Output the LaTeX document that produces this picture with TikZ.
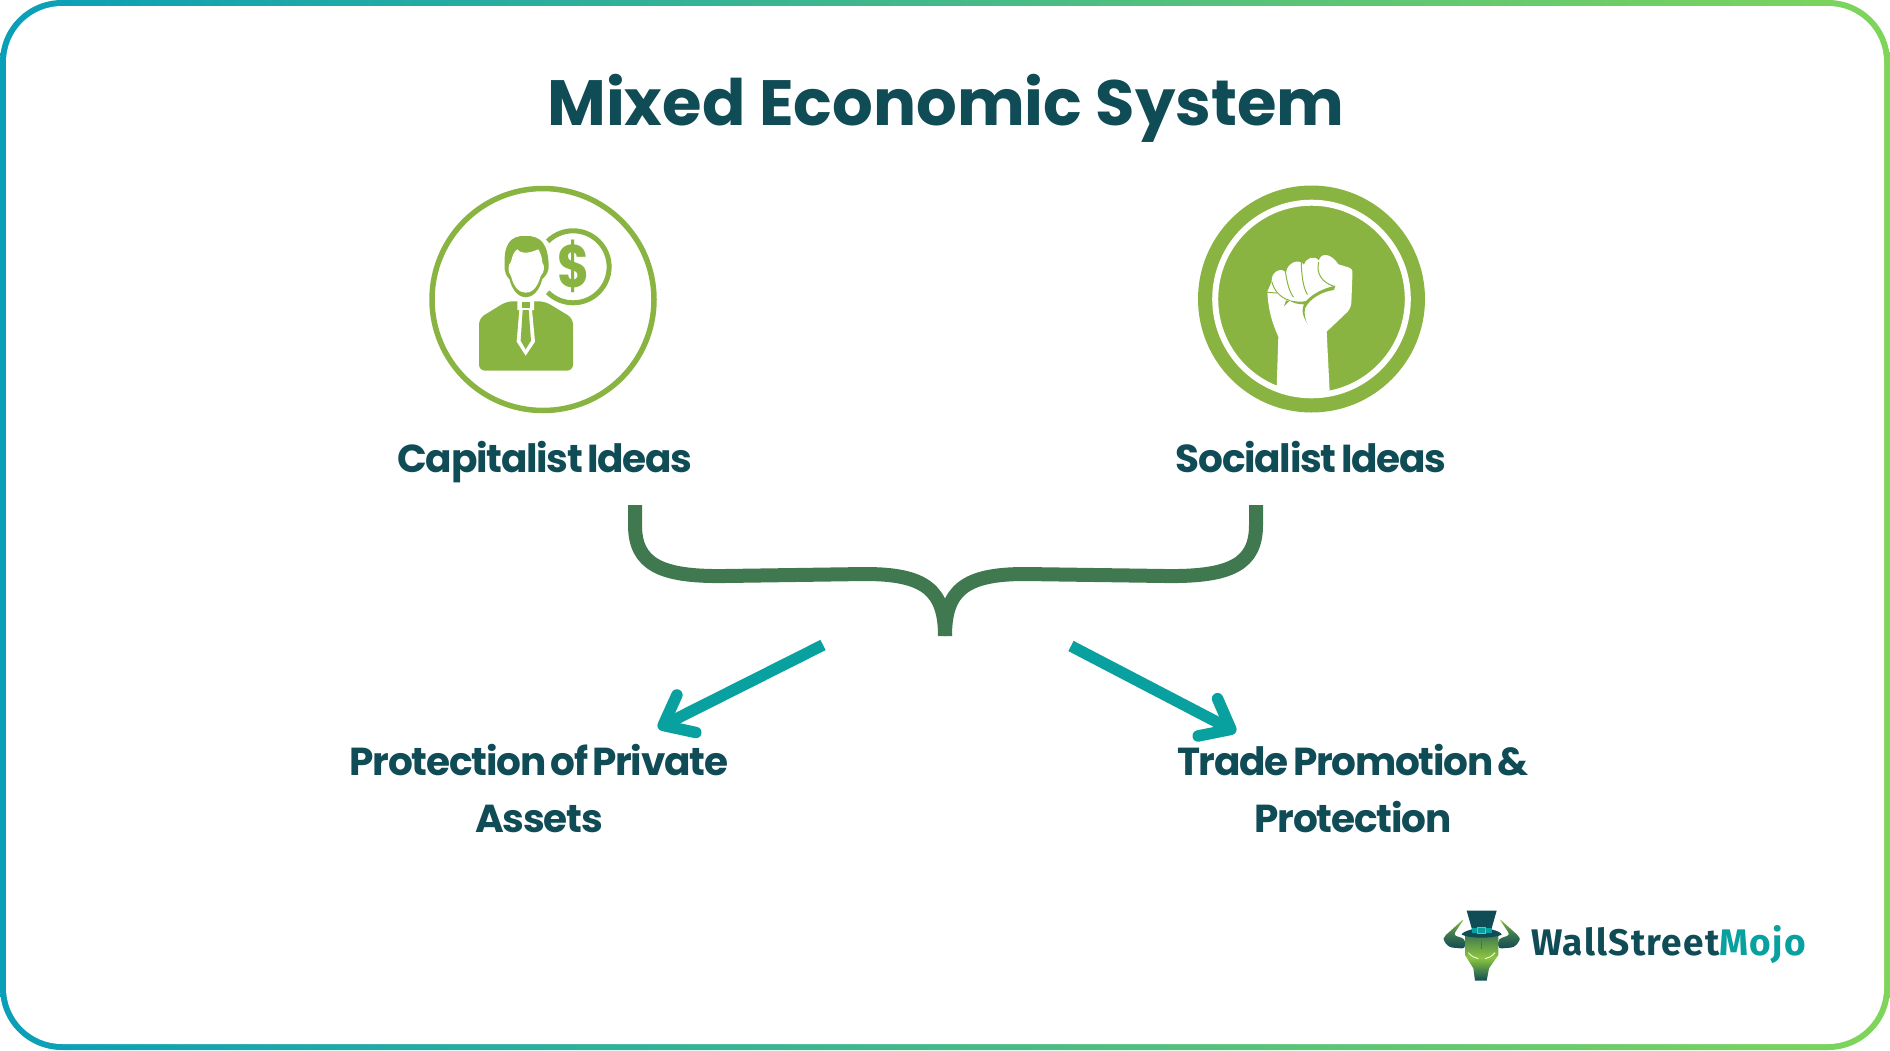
\documentclass[tikz,border=0pt]{standalone}
\usepackage{fontspec}
\newfontfamily\labelfont[LetterSpace=-3.2,WordSpace=0.6]{Poppins Bold}
\newfontfamily\titlefont{Poppins Bold}
\newfontfamily\logofont[LetterSpace=3.6]{Fira Sans Bold}
\usetikzlibrary{arrows.meta}

\definecolor{darkteal}{HTML}{0F4C55}
\definecolor{iconGreen}{HTML}{8AB441}
\definecolor{logoGreen}{HTML}{8CC63F}
\definecolor{braceGreen}{HTML}{40784F}
\definecolor{arrowTeal}{HTML}{09A0A0}
\definecolor{borderLeft}{HTML}{0A9FB8}
\definecolor{borderRight}{HTML}{7ED55A}

\tikzset{
  idea/.style={text=darkteal,font=\labelfont\fontsize{39}{57.6}\selectfont,align=center},
  bracepart/.style={draw=braceGreen,line width=14pt},
  arrowpart/.style={draw=arrowTeal,line width=11.5pt,
    -{Straight Barb[length=26pt,width=42pt,line width=11.5pt,round]}},
  gap/.style={draw=iconGreen,line width=1pt,line cap=round},
}

\begin{document}
\begin{tikzpicture}[x=1pt,y=-1pt]
\useasboundingbox (0,0) rectangle (1890,1050);

% frame
\shade[left color=borderLeft,right color=borderRight,rounded corners=62pt] (0,0) rectangle (1890,1050);
\fill[white,rounded corners=56pt] (6,6) rectangle (1884,1044);

\node[anchor=base,text=darkteal,font=\titlefont\fontsize{64}{70}\selectfont] (title) at (946,125) {Mixed Economic System};

% capitalist icon
\coordinate (capital) at (543,299.5);
\draw[iconGreen,line width=5.5pt] (capital) circle (111);
\begin{scope}[shift={(410,170)},scale=1/3]
  \fill[iconGreen,rounded corners=6pt] (207,445) -- (290,394) -- (405,394) -- (489,445) -- (489,602) -- (207,602) -- cycle;
  % tie
  \fill[white] (322,390) -- (372,390) -- (372,420) -- (366,420) -- (375,515) -- (347,557) -- (320,515) -- (328,420) -- (322,420) -- cycle;
  \fill[iconGreen] (336,396) rectangle (360,413);
  \fill[iconGreen] (338,420) -- (356,420) -- (363,512) -- (347,538) -- (332,512) -- cycle;
  % head
  \fill[iconGreen] (345,198) .. controls (300,196) and (281,225) .. (284,285)
     .. controls (282,305) and (290,320) .. (298,327) .. controls (308,367) and (330,382) .. (347,382)
     .. controls (365,382) and (387,367) .. (397,327) .. controls (407,318) and (418,305) .. (416,285)
     .. controls (414,225) and (395,196) .. (345,198) -- cycle;
  \fill[white] (303,275) .. controls (308,255) and (312,245) .. (322,238)
     .. controls (330,248) and (345,255) .. (385,238) .. controls (392,250) and (396,262) .. (397,278)
     .. controls (404,285) and (405,305) .. (392,318) .. controls (380,360) and (362,368) .. (347,368)
     .. controls (330,368) and (312,355) .. (303,318) .. controls (292,305) and (294,285) .. (303,275) -- cycle;
  % coin
  \draw[iconGreen,line width=5pt] (413,214) arc (-135:135:108);
  \node[text=iconGreen,xscale=.82,font=\titlefont\fontsize{60}{64}\selectfont] (dollar) at (490,288) {\$};
\end{scope}

% socialist icon
\coordinate (social) at (1311.5,299);
\fill[iconGreen] (social) circle (113.5);
\draw[white,line width=6pt] (social) circle (96.3);
\begin{scope}[shift={(1180,170)},scale=1/3]
  \fill[white] (290,652) -- (295,500) .. controls (275,455) and (265,420) .. (262,365) -- (275,335)
     .. controls (272,305) and (305,290) .. (318,308) .. controls (322,275) and (360,265) .. (372,285)
     .. controls (378,262) and (405,255) .. (417,272) .. controls (420,250) and (450,245) .. (475,283)
     -- (508,293) .. controls (518,297) and (518,305) .. (517,320) -- (514,400) .. controls (514,410) and (508,418) .. (503,425)
     -- (440,485) -- (449,665) .. controls (400,675) and (340,670) .. (290,652) -- cycle;
\end{scope}
\begin{scope}[shift={(1260,245)},scale=1/3]
  % finger gaps
  \fill[iconGreen] (85,165) .. controls (105,170) and (125,172) .. (138,168) .. controls (160,145) and (190,130) .. (226,122)
     -- (222,135) .. controls (185,140) and (150,160) .. (135,190) .. controls (132,205) and (135,225) .. (143,238)
     .. controls (125,210) and (125,190) .. (132,178) .. controls (115,178) and (100,175) .. (85,165) -- cycle;
  \fill[iconGreen] (88,168) -- (72,184) -- (78,166) -- cycle;
  \draw[gap] (36,112) .. controls (42,135) and (60,158) .. (88,166);
  \draw[gap] (76,78) .. controls (80,110) and (88,140) .. (100,156);
  \draw[gap] (124,50) .. controls (124,90) and (130,130) .. (142,148);
  \draw[gap] (176,52) .. controls (168,85) and (185,112) .. (222,124);
  \draw[gap] (22,142) -- (50,144);
\end{scope}

\node[anchor=base,idea] (capitalist) at (545,472) {Capitalist Ideas};
\node[anchor=base,idea] (socialist) at (1311,472) {Socialist Ideas};

% brace
\coordinate (braceL) at (635,505);
\coordinate (braceR) at (1256,505);
\coordinate (braceM) at (945,636);
\draw[bracepart] (braceL) -- (635,525) .. controls (635,564) and (660,577) .. (725,576) -- (865,574)
   .. controls (925,574) and (945,590) .. (braceM);
\draw[bracepart] (braceR) -- (1256,525) .. controls (1256,564) and (1231,577) .. (1165,576) -- (1025,574)
   .. controls (965,574) and (945,590) .. (braceM);

% arrows
\coordinate (startL) at (823,645);
\coordinate (endL) at (658,728);
\coordinate (startR) at (1071,646);
\coordinate (endR) at (1236,732);
\draw[arrowpart] (startL) -- (endL);
\draw[arrowpart] (startR) -- (endR);

\node[idea] (assets) at (539,788.5) {Protection of Private\\Assets};
\node[idea] (trade) at (1353,788.5) {Trade Promotion \&\\Protection};

% logo
\begin{scope}[shift={(1420,890)},scale=1/3]
  \shade[top color=logoGreen,bottom color=darkteal,middle color=braceGreen,rounded corners=3pt] (133,85) -- (72,140) -- (70,152) -- (88,172) -- (135,176) -- (135,147) -- (100,135) -- cycle;
  \shade[top color=logoGreen,bottom color=darkteal,middle color=braceGreen,rounded corners=3pt] (237,85) -- (298,140) -- (300,152) -- (282,172) -- (235,176) -- (235,147) -- (270,135) -- cycle;
  \shade[top color=braceGreen,bottom color=darkteal,middle color=logoGreen] (135,135) -- (235,135) -- (235,195) -- (207,235) -- (200,272) -- (165,272) -- (160,235) -- (135,195) -- cycle;
  \fill[darkteal] (140,62) -- (230,62) -- (214,118) .. controls (230,122) and (245,128) .. (245,134) .. controls (220,146) and (150,146) .. (125,134) .. controls (125,128) and (140,122) .. (156,118) -- cycle;
  \fill[arrowTeal] (155,114) rectangle (215,130);
  \draw[logoGreen,line width=1pt] (173,113) rectangle (197,130);
  \draw[white,line width=0.8pt] (145,188) .. controls (155,200) and (165,204) .. (175,206) (225,188) .. controls (215,200) and (205,204) .. (195,206);
  \draw[braceGreen,line width=0.8pt] (185,150) -- (185,178);
\end{scope}
\node[anchor=base west,inner sep=0pt,font=\logofont\fontsize{37}{40}\selectfont] (logo) at (1531,955) {\textcolor{darkteal}{WallStreet}\textcolor{arrowTeal}{Mojo}};
\end{tikzpicture}
\end{document}
